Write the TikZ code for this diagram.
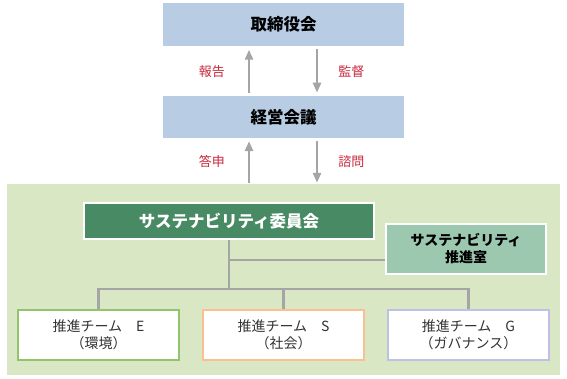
\documentclass[tikz,border=0pt]{standalone}
\usepackage{fontspec}
\setmainfont{Noto Sans CJK JP}
\usepackage{tikz}
\usetikzlibrary{positioning}
\usetikzlibrary{arrows.meta}
\usepackage{xcolor}

\definecolor{topblue}{RGB}{184,204,228}
\definecolor{panelgreen}{RGB}{218,231,196}
\definecolor{commgreen}{RGB}{72,138,100}
\definecolor{officegreen}{RGB}{156,200,176}
\definecolor{linegray}{RGB}{165,165,165}
\definecolor{labelred}{RGB}{200,40,60}
\definecolor{teamEc}{RGB}{146,196,106}
\definecolor{teamSc}{RGB}{250,192,145}
\definecolor{teamGc}{RGB}{192,192,230}

\tikzset{
  headbox/.style={fill=topblue, minimum width=241pt, minimum height=43pt, inner sep=0pt, font=\fontsize{16.5}{19}\selectfont\bfseries},
  flow/.style={linegray, line width=2.5pt, -{Triangle[width=8pt,length=10pt]}},
  flowlabel/.style={labelred, inner sep=0pt, font=\fontsize{13}{15}\selectfont},
  teambox/.style={fill=white, line width=2pt, minimum width=161pt, minimum height=50pt, align=center, inner sep=0pt, text=black!80, font=\fontsize{14}{17}\selectfont},
  tree/.style={linegray, line width=2.5pt},
}

\begin{document}
\begin{tikzpicture}[x=1pt, y=-1pt]
  \useasboundingbox (0,0) rectangle (567,378);
  \node[headbox] (board) at (283.5,24.5) {取締役会};
  \node[headbox, minimum height=42pt, below=50pt of board] (mgmt) {経営会議};
  \node[fill=panelgreen, minimum width=553pt, minimum height=191pt, inner sep=0pt] (panel) at (283.5,279.5) {};

  \draw[flow, shorten <=3pt, shorten >=3.5pt] ([xshift=-34.5pt]mgmt.north) -- ([xshift=-34.5pt]board.south) node[flowlabel, midway, left=23pt] {報告};
  \draw[flow, shorten <=3pt, shorten >=3.5pt] ([xshift=33.5pt]board.south) -- ([xshift=33.5pt]mgmt.north) node[flowlabel, midway, right=20pt] {監督};
  \draw[flow, shorten <=1pt, shorten >=2.5pt] ([xshift=-34.5pt]panel.north) -- ([xshift=-34.5pt]mgmt.south) node[flowlabel, midway, left=23pt] {答申};
  \draw[flow, shorten <=2.5pt, shorten >=1pt] ([xshift=33.5pt]mgmt.south) -- ([xshift=33.5pt]panel.north) node[flowlabel, midway, right=20pt] {諮問};

  \node[fill=commgreen, draw=white, line width=2pt, minimum width=290pt, minimum height=36pt, inner sep=0pt, text=white, font=\fontsize{16.5}{19}\selectfont\bfseries] (comm) at (229,221) {サステナビリティ委員会};
  \node[fill=officegreen, draw=white, line width=2pt, minimum width=160pt, minimum height=50pt, inner sep=0pt, align=center, font=\fontsize{14}{17}\selectfont\bfseries] (office) at (466,249) {サステナビリティ\\推進室};
  \node[teambox, draw=teamSc] (teamS) at (283.5,335) {推進チーム　S\\（社会）};
  \node[teambox, draw=teamEc, left=22pt of teamS] (teamE) {推進チーム　E\\（環境）};
  \node[teambox, draw=teamGc, right=22pt of teamS] (teamG) {推進チーム　G\\（ガバナンス）};

  \coordinate (branch) at (comm.south |- 0,260);
  \coordinate (bus) at (comm.south |- 0,289);
  \draw[tree] (comm.south) -- (bus);
  \draw[tree] (branch) -- (branch -| office.west);
  \draw[tree] (teamE.north) |- (bus) -| (teamG.north);
  \draw[tree] (bus -| teamS.north) -- (teamS.north);
\end{tikzpicture}
\end{document}
